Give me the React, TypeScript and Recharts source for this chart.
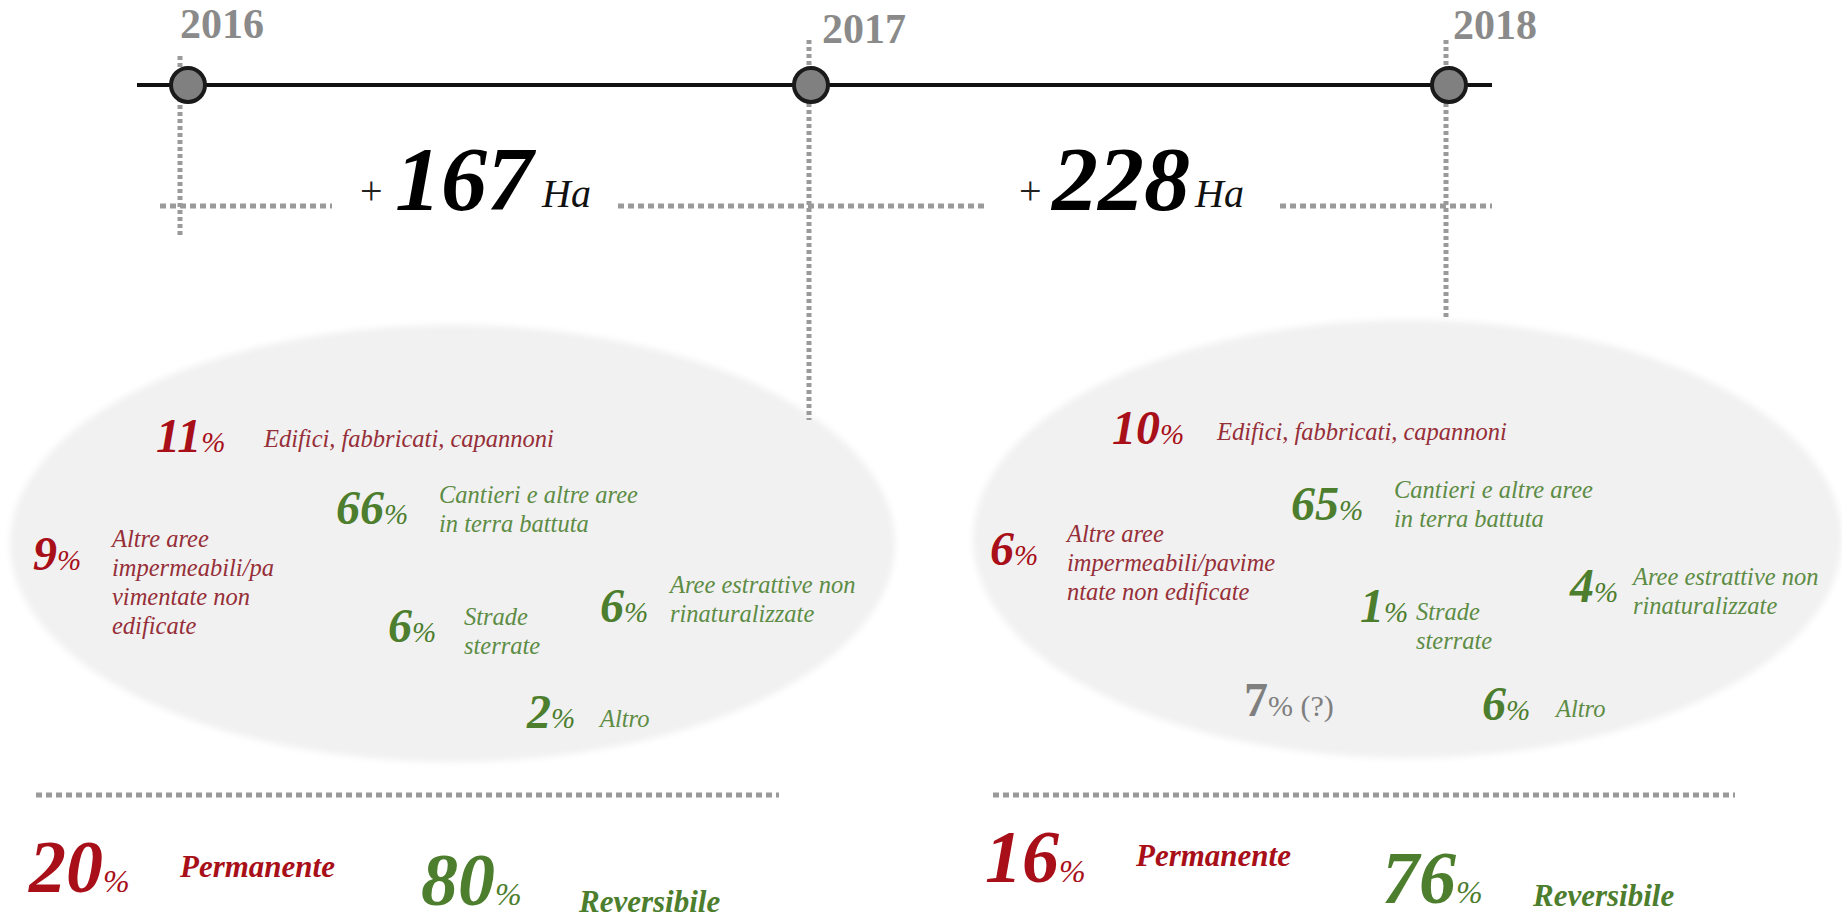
import React from 'react';
import { ComposedChart, XAxis, YAxis, Scatter, ReferenceLine, ReferenceDot, ReferenceArea } from 'recharts';

// ---------------- data ----------------
const YEARS = ['2016', '2017', '2018'];
const GROWTH_HA = [167, 228];
const GROWTH_UNIT = 'Ha';

// category kind: permanent (red), reversible (green), unknown (gray)
const CATEGORY_KIND = ['permanent', 'reversible', 'permanent', 'reversible', 'reversible', 'reversible', 'unknown'];

const LABEL_LINES_2017 = [
  ['Edifici, fabbricati, capannoni'],
  ['Cantieri e altre aree', 'in terra battuta'],
  ['Altre aree', 'impermeabili/pa', 'vimentate non', 'edificate'],
  ['Strade', 'sterrate'],
  ['Aree estrattive non', 'rinaturalizzate'],
  ['Altro'],
  [],
];
const SHARES_2017 = [11, 66, 9, 6, 6, 2, null];

const LABEL_LINES_2018 = [
  ['Edifici, fabbricati, capannoni'],
  ['Cantieri e altre aree', 'in terra battuta'],
  ['Altre aree', 'impermeabili/pavime', 'ntate non edificate'],
  ['Strade', 'sterrate'],
  ['Aree estrattive non', 'rinaturalizzate'],
  ['Altro'],
  ['(?)'],
];
const SHARES_2018 = [10, 65, 6, 1, 4, 6, 7];

const SUMMARY_LABELS = ['Permanente', 'Reversibile'];
const PERMANENT_SHARE = [20, 16];
const REVERSIBLE_SHARE = [80, 76];

// ---------------- layout (pixel space of the 1842x922 canvas) ----------------
const W = 1842;
const H = 922;
const FONT = '"Liberation Serif", "Times New Roman", Times, serif';

const TIMELINE_Y = 85;
const TIMELINE_X = [137, 1492];
const YEAR_DOT_X = [188, 811, 1449];
const YEAR_LABEL_POS = [[180, 38], [822, 43], [1453, 39]];
const YEAR_DROP = [[180, 56, 235], [809, 40, 420], [1446, 40, 318]];
const SPAN_Y = 206;
const SPAN_SEGMENTS = [[160, 332], [618, 987], [1280, 1492]];
const GROWTH_POS = [[360, 395, 542], [1019, 1052, 1195]];
const GROWTH_BASE = 210;

const ELLIPSES = [
  { x1: 10, x2: 895, y1: 325, y2: 762 },
  { x1: 973, x2: 1842, y1: 320, y2: 758 },
];

const NUM_POS = [
  [[156, 452], [336, 524], [33, 570], [388, 642], [600, 622], [527, 728], null],
  [[1112, 444], [1291, 520], [990, 565], [1360, 622], [1570, 602], [1482, 720], [1244, 716]],
];
const LABEL_POS = [
  [[264, 447], [439, 503], [112, 547], [464, 625], [670, 593], [600, 727], null],
  [[1217, 440], [1394, 498], [1067, 542], [1416, 620], [1633, 585], [1556, 717], null],
];
const LINE_H = 29;

const SUMMARY_LINE_Y = 795;
const SUMMARY_SEGMENTS = [[36, 779], [993, 1735]];
const SUMMARY_NUM_POS = [[[29, 892], [421, 905]], [[985, 882], [1382, 903]]];
const SUMMARY_LABEL_POS = [[[180, 877], [579, 912]], [[1136, 866], [1533, 906]]];

const COLORS = {
  permanentNum: '#a80f18',
  permanentLabel: '#962f38',
  reversibleNum: '#4c7e2e',
  reversibleLabel: '#5d8c45',
  unknown: '#7f7f7f',
  year: '#8a8a8a',
  dotted: '#9a9a9a',
  ellipse: '#f1f1f1',
};

// ---------------- build text items ----------------
type Item = { x: number; y: number; t: string; [k: string]: any };
const items: Item[] = [];

YEARS.forEach((yr, i) => {
  items.push({ x: YEAR_LABEL_POS[i][0], y: YEAR_LABEL_POS[i][1], t: 'year', text: yr });
});
GROWTH_HA.forEach((v, i) => {
  const [px, nx, hx] = GROWTH_POS[i];
  items.push({ x: px, y: GROWTH_BASE - 6, t: 'plus' });
  items.push({ x: nx, y: GROWTH_BASE, t: 'growth', text: String(v) });
  items.push({ x: hx, y: GROWTH_BASE - 3, t: 'unit', text: GROWTH_UNIT });
});

const panels = [
  { shares: SHARES_2017, labels: LABEL_LINES_2017 },
  { shares: SHARES_2018, labels: LABEL_LINES_2018 },
];
panels.forEach((p, pi) => {
  p.shares.forEach((v, ci) => {
    if (v === null) return;
    const kind = CATEGORY_KIND[ci];
    const np = NUM_POS[pi][ci];
    if (!np) return;
    if (kind === 'unknown') {
      items.push({ x: np[0], y: np[1], t: 'unknown', text: String(v), extra: p.labels[ci].join(' ') });
      return;
    }
    items.push({ x: np[0], y: np[1], t: 'share', text: String(v), kind });
    const lp = LABEL_POS[pi][ci];
    if (lp) {
      p.labels[ci].forEach((line, li) => {
        items.push({ x: lp[0], y: lp[1] + li * LINE_H, t: 'label', text: line, kind });
      });
    }
  });
});

[PERMANENT_SHARE, REVERSIBLE_SHARE].forEach((arr, k) => {
  arr.forEach((v, pi) => {
    const kind = k === 0 ? 'permanent' : 'reversible';
    const np = SUMMARY_NUM_POS[pi][k];
    const lp = SUMMARY_LABEL_POS[pi][k];
    items.push({ x: np[0], y: np[1], t: 'summaryNum', text: String(v), kind });
    items.push({ x: lp[0], y: lp[1], t: 'summaryLabel', text: SUMMARY_LABELS[k], kind });
  });
});

const TextShape = (props: any) => {
  const { cx, cy, payload } = props;
  if (cx == null || cy == null) return null;
  const it = payload as Item;
  const numColor = it.kind === 'permanent' ? COLORS.permanentNum : COLORS.reversibleNum;
  const labColor = it.kind === 'permanent' ? COLORS.permanentLabel : COLORS.reversibleLabel;
  switch (it.t) {
    case 'year':
      return (
        <text x={cx} y={cy} fontFamily={FONT} fontWeight="bold" fontSize={42} fill={COLORS.year}>
          {it.text}
        </text>
      );
    case 'plus':
      return (
        <text x={cx} y={cy} fontFamily={FONT} fontSize={40} fill="#222">+</text>
      );
    case 'growth':
      return (
        <text x={cx} y={cy} fontFamily={FONT} fontWeight="bold" fontStyle="italic" fontSize={92} fill="#000">
          {it.text}
        </text>
      );
    case 'unit':
      return (
        <text x={cx} y={cy} fontFamily={FONT} fontStyle="italic" fontSize={40} fill="#111">
          {it.text}
        </text>
      );
    case 'share':
      return (
        <text x={cx} y={cy} fontFamily={FONT} fill={numColor}>
          <tspan fontWeight="bold" fontStyle="italic" fontSize={48}>{it.text}</tspan>
          <tspan fontStyle="italic" fontSize={29}>%</tspan>
        </text>
      );
    case 'unknown':
      return (
        <text x={cx} y={cy} fontFamily={FONT} fill={COLORS.unknown}>
          <tspan fontWeight="bold" fontSize={48}>{it.text}</tspan>
          <tspan fontSize={30}>% </tspan>
          <tspan fontSize={30}>{it.extra}</tspan>
        </text>
      );
    case 'label':
      return (
        <text x={cx} y={cy} fontFamily={FONT} fontStyle="italic" fontSize={24.5} fill={labColor}>
          {it.text}
        </text>
      );
    case 'summaryNum':
      return (
        <text x={cx} y={cy} fontFamily={FONT} fill={numColor}>
          <tspan fontWeight="bold" fontStyle="italic" fontSize={74}>{it.text}</tspan>
          <tspan fontStyle="italic" fontSize={32}>%</tspan>
        </text>
      );
    case 'summaryLabel':
      return (
        <text x={cx} y={cy} fontFamily={FONT} fontWeight="bold" fontStyle="italic" fontSize={31} fill={numColor}>
          {it.text}
        </text>
      );
    default:
      return null;
  }
};

const EllipseShape = (props: any) => {
  const { x, y, width, height } = props;
  if (x == null) return null;
  return (
    <g>
      <defs>
        <filter id="softEdge" x="-5%" y="-5%" width="110%" height="110%">
          <feGaussianBlur stdDeviation="3" />
        </filter>
      </defs>
      <ellipse
        cx={x + width / 2}
        cy={y + height / 2}
        rx={width / 2}
        ry={height / 2}
        fill={COLORS.ellipse}
        filter="url(#softEdge)"
      />
    </g>
  );
};

const dotted = { stroke: COLORS.dotted, strokeWidth: 5 };

export default function App() {
  return (
    <div style={{ position: 'absolute', left: 0, top: 0, width: W, height: H, background: '#fff' }}>
      <ComposedChart width={W} height={H} margin={{ top: 0, right: 0, bottom: 0, left: 0 }}>
        <XAxis type="number" dataKey="x" domain={[0, W]} allowDataOverflow hide />
        <YAxis type="number" dataKey="y" domain={[0, H]} allowDataOverflow reversed hide />

        {ELLIPSES.map((e, i) => (
          <ReferenceArea
            key={`ell-${i}`}
            x1={e.x1}
            x2={e.x2}
            y1={e.y1}
            y2={e.y2}
            ifOverflow="extendDomain"
            shape={(p: any) => <EllipseShape {...p} />}
          />
        ))}

        {YEAR_DROP.map((d, i) => (
          <ReferenceLine
            key={`drop-${i}`}
            segment={[{ x: d[0], y: d[1] }, { x: d[0], y: d[2] }]}
            {...dotted}
            strokeDasharray="4 3"
          />
        ))}
        {SPAN_SEGMENTS.map((s, i) => (
          <ReferenceLine
            key={`span-${i}`}
            segment={[{ x: s[0], y: SPAN_Y }, { x: s[1], y: SPAN_Y }]}
            {...dotted}
            strokeDasharray="6 4"
          />
        ))}
        {SUMMARY_SEGMENTS.map((s, i) => (
          <ReferenceLine
            key={`sum-${i}`}
            segment={[{ x: s[0], y: SUMMARY_LINE_Y }, { x: s[1], y: SUMMARY_LINE_Y }]}
            {...dotted}
            strokeDasharray="6 4"
          />
        ))}

        <ReferenceLine
          segment={[{ x: TIMELINE_X[0], y: TIMELINE_Y }, { x: TIMELINE_X[1], y: TIMELINE_Y }]}
          stroke="#111"
          strokeWidth={4}
        />
        {YEAR_DOT_X.map((x, i) => (
          <ReferenceDot key={`dot-${i}`} x={x} y={TIMELINE_Y} r={17} fill="#808080" stroke="#1a1a1a" strokeWidth={4} />
        ))}

        <Scatter data={items} dataKey="y" isAnimationActive={false} shape={(p: any) => <TextShape {...p} />} />
      </ComposedChart>
    </div>
  );
}
